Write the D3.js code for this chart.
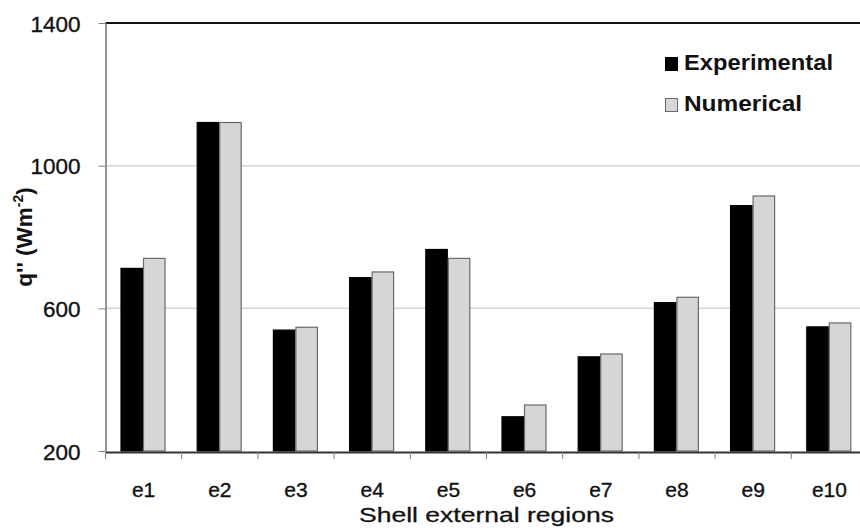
<!DOCTYPE html>
<html>
<head>
<meta charset="utf-8">
<script src="https://cdn.jsdelivr.net/npm/d3@7"></script>
<style>
  html, body { margin: 0; padding: 0; background: #fff; }
  svg { display: block; font-family: "Liberation Sans", Arial, sans-serif; }
</style>
</head>
<body>
<svg id="chart" width="860" height="528"></svg>
<script>
const categories = ["e1", "e2", "e3", "e4", "e5", "e6", "e7", "e8", "e9", "e10"];
const seriesNames = ["Experimental", "Numerical"];
const experimental = [712, 1121, 539, 686, 765, 296, 464, 616, 888, 548];
const numerical = [740, 1121, 547, 702, 740, 329, 472, 631, 915, 559];
const yTicks = [200, 600, 1000, 1400];
const yTitle = "q'' (Wm";
const xTitle = "Shell external regions";

const seriesValues = [experimental, numerical];
const fills = ["#000000", "#d6d6d6"];
const strokes = ["#000000", "#6a6a6a"];

const svg = d3.select("#chart");
const mLeft = 105.5, mRight = 867.5, mTop = 23, mBottom = 451;

const x0 = d3.scaleBand().domain(categories).range([mLeft, mRight]).padding(0);
const x1 = d3.scaleBand().domain(seriesNames).range([15, 60]).padding(0);
const y = d3.scaleLinear().domain([200, 1400]).range([mBottom, mTop]);

// gridlines
svg.append("g").selectAll("line").data(yTicks.filter(d => d > 200 && d < 1400)).join("line")
  .attr("x1", mLeft).attr("x2", 860)
  .attr("y1", d => y(d)).attr("y2", d => y(d))
  .attr("stroke", "#d4d4d4").attr("stroke-width", 1.5);

// bars
const groups = svg.append("g").selectAll("g").data(categories).join("g")
  .attr("transform", d => `translate(${x0(d)},0)`);
groups.selectAll("rect").data((c, i) => seriesNames.map((s, k) => ({s, k, v: seriesValues[k][i]}))).join("rect")
  .attr("x", d => x1(d.s) + 0.5)
  .attr("width", x1.bandwidth() - 1)
  .attr("y", d => y(d.v))
  .attr("height", d => y(200) - y(d.v))
  .attr("fill", d => fills[d.k])
  .attr("stroke", d => strokes[d.k])
  .attr("stroke-width", 1.2);

// top border
svg.append("line").attr("x1", mLeft).attr("x2", 860).attr("y1", mTop).attr("y2", mTop)
  .attr("stroke", "#111").attr("stroke-width", 2);

// y axis
const yAxis = d3.axisLeft(y).tickValues(yTicks).tickFormat(d3.format("d"))
  .tickSize(7).tickSizeOuter(0).tickPadding(0);
const gy = svg.append("g").attr("transform", `translate(${mLeft},0)`).call(yAxis);
gy.select(".domain").attr("stroke", "#707070").attr("stroke-width", 1.5);
gy.selectAll(".tick line").attr("stroke", "#808080").attr("stroke-width", 1);
gy.selectAll(".tick text").attr("x", -25).attr("dy", "0.36em")
  .attr("font-size", 22.5).attr("fill", "#111").attr("stroke", "#111").attr("stroke-width", 0.35)
  .attr("font-family", "Liberation Sans, Arial, sans-serif");

// x axis
const xAxis = d3.axisBottom(x0).tickSize(0).tickSizeOuter(0).tickPadding(0);
const gx = svg.append("g").attr("transform", `translate(0,${mBottom + 1})`).call(xAxis);
gx.select(".domain").attr("stroke", "#333").attr("stroke-width", 2);
gx.selectAll(".tick text").attr("y", 0).attr("dy", 0)
  .attr("transform", "translate(0,45)")
  .attr("font-size", 21).attr("fill", "#111").attr("stroke", "#111").attr("stroke-width", 0.35)
  .attr("font-family", "Liberation Sans, Arial, sans-serif");
// category boundary ticks
const boundaries = categories.map(c => x0(c)).concat([mRight]);
svg.append("g").selectAll("line").data(boundaries).join("line")
  .attr("x1", d => d).attr("x2", d => d)
  .attr("y1", mBottom + 1).attr("y2", mBottom + 8)
  .attr("stroke", "#808080").attr("stroke-width", 1);

// x title
svg.append("text").attr("x", (mLeft + mRight) / 2).attr("y", 522)
  .attr("text-anchor", "middle").attr("font-size", 21).attr("fill", "#111")
  .attr("stroke", "#111").attr("stroke-width", 0.3)
  .attr("textLength", 255).attr("lengthAdjust", "spacingAndGlyphs")
  .text(xTitle);

// y title
const yt = svg.append("text")
  .attr("transform", `translate(32,${(mTop + mBottom) / 2}) rotate(-90)`)
  .attr("text-anchor", "middle").attr("font-size", 22.5).attr("font-weight", "bold").attr("fill", "#111");
yt.append("tspan").text(yTitle);
yt.append("tspan").attr("dy", -9).attr("font-size", 14).text("-2");
yt.append("tspan").attr("dy", 9).text(")");

// legend
const legend = svg.append("g").selectAll("g").data(seriesNames).join("g")
  .attr("transform", (d, i) => `translate(665,${57 + i * 41})`);
legend.append("rect").attr("x", 0.5).attr("y", 0.5).attr("width", 12).attr("height", 13)
  .attr("fill", (d, i) => fills[i]).attr("stroke", (d, i) => strokes[i]).attr("stroke-width", 1);
legend.append("text").attr("x", 19).attr("y", 13)
  .attr("font-size", 22).attr("font-weight", "bold").attr("fill", "#111")
  .attr("textLength", (d, i) => i === 0 ? 149 : 118).attr("lengthAdjust", "spacingAndGlyphs")
  .text(d => d);
</script>
</body>
</html>
